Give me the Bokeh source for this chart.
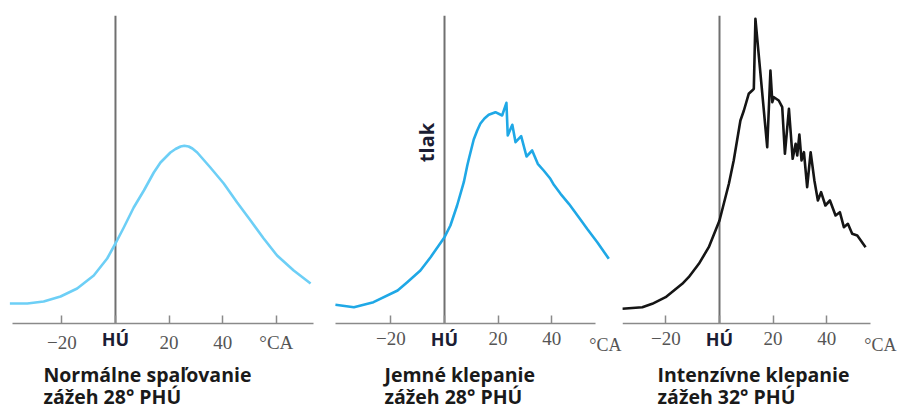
import math
from bokeh.plotting import figure
from bokeh.layouts import row
from bokeh.models import Range1d, Label, FixedTicker
from bokeh.core.properties import value
from bokeh.embed import file_html
from bokeh.resources import INLINE

# ---- data (crank angle in deg, pressure in arbitrary units) ----
normal_x = [-39.4, -32.9, -26.8, -20.5, -14.3, -8.1, -3.1, 0.0, 3.1, 6.8, 10.6, 14.3, 16.8,
            20.5, 22.4, 24.3, 25.7, 27.3, 28.7, 30.5, 35.4, 40.4, 45.4, 50.4, 55.3, 60.3,
            66.5, 72.8]
normal_y = [20, 20, 22, 27, 35, 48, 65, 80, 96, 116, 133, 151, 161,
            171, 174.5, 177, 177.7, 177, 175, 171, 156, 140, 121, 103, 85, 68, 53, 40]

light_x = [-40.7, -33.8, -26.5, -17.5, -13.9, -9.0, -5.2, 0.0, 2.2, 4.7, 7.2, 8.5, 9.1, 10.9,
           12.2, 13.4, 14.9, 16.5, 19.0, 21.5, 23.1, 23.6, 25.3, 26.5, 28.6, 30.6, 32.7, 34.8,
           37.0, 39.5, 40.8, 43.3, 46.4, 50.1, 53.2, 57.0, 61.3]
light_y = [18.7, 16.3, 21.3, 33, 41.3, 53, 66.3, 86.3, 98, 118, 141.3, 158, 164.7, 184,
           193, 200, 205, 208.7, 211.3, 208, 220.7, 188, 198.7, 181.3, 187.3, 167, 173, 159.7,
           153, 144.7, 138.7, 129.7, 119.7, 106.3, 94.7, 81.3, 64.7]

heavy_x = [-36.3, -28.8, -25.1, -20.1, -13.9, -11.5, -7.7, -4.0, 0.0, 3.5, 5.3, 7.8, 9.1, 10.9,
           12.2, 12.8, 13.4, 17.8, 19.0, 19.7, 20.3, 22.1, 23.4, 24.4, 25.9, 27.3, 28.4, 29.0,
           29.8, 30.6, 31.5, 32.7, 34.0, 35.4, 36.7, 37.9, 39.5, 41.2, 43.3, 44.9, 46.4, 47.9,
           49.5, 51.4, 54.5]
heavy_y = [14.7, 16.3, 19.7, 26.3, 39.7, 46.3, 59.7, 76.3, 103, 139.7, 163, 203, 213, 229.7,
           233, 234.7, 304.7, 176.3, 253, 221.3, 226.3, 223, 216.3, 169.7, 214.7, 164.7, 179.7,
           168, 189, 163, 171.3, 136.3, 171.3, 143, 123, 131.3, 118, 123, 108, 111.3, 96.3,
           99.7, 89.7, 88, 76.3]

tick_values = [-20, 0, 20, 40]
unit_tick = 60
tdc_angle = 0
pressure_top = 308
unit_label = "°CA"
tdc_label = "HÚ"
titles = [("Normálne spaľovanie", "zážeh 28° PHÚ"),
          ("Jemné klepanie", "zážeh 28° PHÚ"),
          ("Intenzívne klepanie", "zážeh 32° PHÚ")]
y_label = "tlak"

NUM_FONT = "Liberation Serif"
SANS = "Open Sans"
AXIS_COL = "#8a8a8a"
NUM_COL = "#555555"
DARK = "#1b1d33"
TITLE_COL = "#1a1a1a"


def panel(width, xr, bounds, ticks, overrides, xs, ys, color, title_x, titles_pair,
          extra_unit=False):
    p = figure(width=width, height=409, output_backend="svg", toolbar_location=None,
               x_range=Range1d(*xr), y_range=Range1d(-86, pressure_top), y_axis_location=None,
               min_border_left=0, min_border_right=0, min_border_top=15,
               min_border_bottom=0)
    p.outline_line_color = None
    p.grid.visible = False
    p.background_fill_color = "white"
    p.border_fill_color = "white"
    ax = p.xaxis[0]
    ax.fixed_location = 0
    ax.ticker = FixedTicker(ticks=ticks)
    ax.major_label_overrides = overrides
    ax.bounds = bounds
    ax.axis_line_color = AXIS_COL
    ax.axis_line_width = 1.5
    ax.major_tick_line_color = AXIS_COL
    ax.major_tick_line_width = 1.5
    ax.major_tick_in = 8
    ax.major_tick_out = 0
    ax.minor_tick_line_color = None
    ax.major_label_text_font = NUM_FONT
    ax.major_label_text_font_size = "19px"
    ax.major_label_text_color = NUM_COL
    ax.major_label_standoff = 8

    p.segment(x0=[tdc_angle], y0=[0], x1=[tdc_angle], y1=[pressure_top],
              line_color="#707070", line_width=2)
    p.line(xs, ys, line_color=color, line_width=2.6, line_join="round")

    p.add_layout(Label(x=tdc_angle, y=-15, text=tdc_label, text_align="center",
                       text_baseline="alphabetic", text_font=SANS, text_font_style="bold",
                       text_font_size="18px", text_color=DARK))
    if extra_unit:
        p.add_layout(Label(x=unit_tick, y=-21, text=unit_label, text_align="center",
                           text_baseline="alphabetic", text_font=NUM_FONT,
                           text_font_size="18px", text_color=NUM_COL))
    p.add_layout(Label(x=title_x, y=-51, text=titles_pair[0], text_align="left",
                       text_baseline="alphabetic", text_font=SANS, text_font_style="bold",
                       text_font_size="19.5px", text_color=TITLE_COL))
    p.add_layout(Label(x=title_x, y=-73, text=titles_pair[1], text_align="left",
                       text_baseline="alphabetic", text_font=SANS, text_font_style="bold",
                       text_font_size="19.5px", text_color=TITLE_COL))
    return p


p1 = panel(320, (-42.9, 76.5), (-38.4, 73.9), tick_values + [unit_tick],
           {0: "", unit_tick: unit_label}, normal_x, normal_y, "#6dcff6", -26.9, titles[0])
p2 = panel(302, (-46.27, 66.41), (-40.67, 56.3), tick_values, {0: ""},
           light_x, light_y, "#1fa8e6", -22.4, titles[1], extra_unit=True)
p3 = panel(276, (-36.19, 66.78), (-36.19, 56.34), tick_values, {0: ""},
           heavy_x, heavy_y, "#151515", -23.1, titles[2], extra_unit=True)

p2.text(x=[-6.7], y=[181], text=[y_label], angle=math.pi / 2, text_align="center",
        text_baseline="middle", text_font=value(SANS), text_font_style="bold",
        text_font_size="20px", text_color=DARK)

layout = row(p1, p2, p3)
open("out.html", "w").write(file_html(layout, INLINE))
